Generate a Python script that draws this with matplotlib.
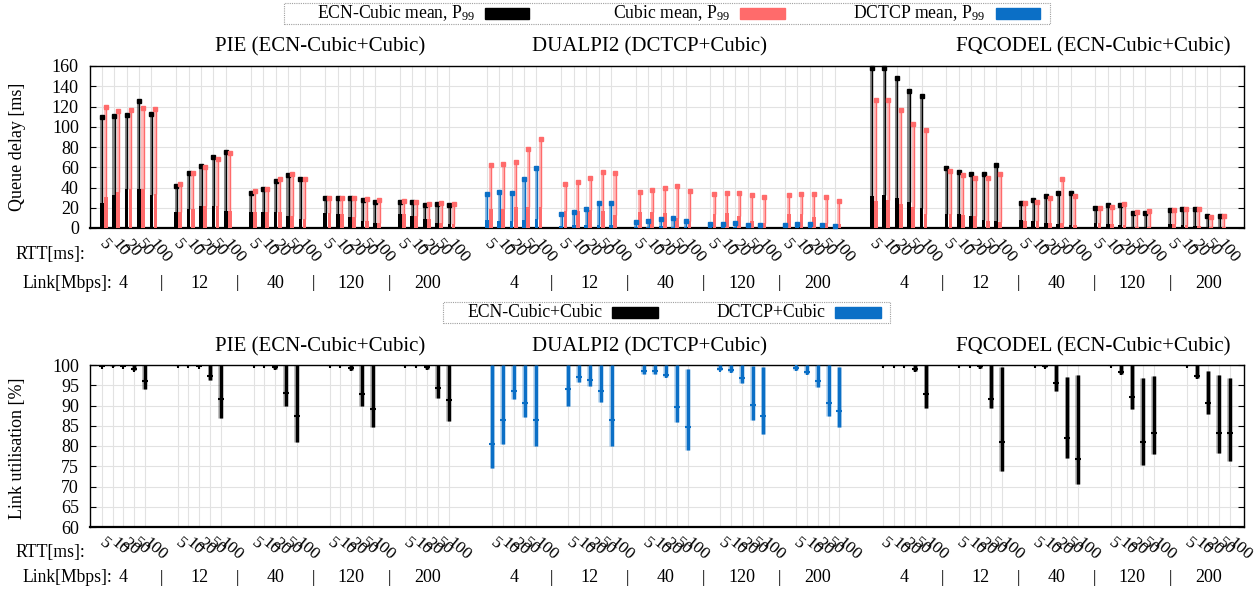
import matplotlib.pyplot as plt
from matplotlib.patches import Rectangle
import matplotlib.transforms as mtransforms
import numpy as np

plt.rcParams['font.family'] = ['Liberation Serif', 'DejaVu Serif']
plt.rcParams['mathtext.fontset'] = 'stix'

rtts = ['5', '10', '20', '50', '100']
links = ['4', '12', '40', '120', '200']
titles = ['PIE (ECN-Cubic+Cubic)', 'DUALPI2 (DCTCP+Cubic)', 'FQCODEL (ECN-Cubic+Cubic)']

# queue delay [ms], one row per link speed, one column per rtt
pie_ecn_mean = [[24.4, 32.3, 38.8, 38.5, 32.6],
                [16.1, 18.4, 21.7, 21.4, 16.8],
                [15.8, 15.8, 15.5, 11.5, 8.9],
                [14.8, 13.5, 10.5, 6.6, 4.6],
                [13.5, 11.9, 8.6, 5.3, 3.6]]
pie_ecn_p99 = [[110, 111, 112, 125, 113],
               [41.8, 54.6, 60.9, 69.8, 75.4],
               [34.9, 38.8, 46.7, 52.3, 48.1],
               [30, 30, 30, 28, 26],
               [25.7, 25.3, 22.4, 23.7, 22.7]]
pie_cubic_mean = [[30.3, 35.2, 38.8, 38.2, 33.2],
                  [16.1, 18.4, 21.7, 21.4, 16.8],
                  [15.8, 15.8, 15.5, 11.5, 8.9],
                  [14.8, 13.5, 10.5, 6.6, 4.6],
                  [13.5, 11.9, 8.6, 5.3, 4.0]]
pie_cubic_p99 = [[119.8, 115.2, 116.2, 118.8, 117.2],
                 [43.1, 54.6, 60.6, 68.5, 74.4],
                 [36.2, 38.2, 48.7, 53.3, 48.4],
                 [30, 30, 30, 28.3, 27.7],
                 [27, 26, 23.7, 25, 23.7]]

dual_dctcp_mean = [[7.6, 7.2, 6.9, 7.9, 8.9],
                   [2.3, 3.0, 3.3, 3.3, 3.0],
                   [1.3, 1.3, 1.6, 1.0, 1.0],
                   [1.0, 1.0, 1.0, 0.7, 0.7],
                   [0.7, 1.0, 1.0, 1.0, 0.7]]
dual_dctcp_p99 = [[33.3, 35.2, 34.6, 48.1, 58.9],
                  [13.5, 15.5, 18.4, 24.4, 24.4],
                  [5.6, 6.6, 8.6, 9.5, 6.9],
                  [4.0, 4.0, 4.6, 3.3, 3.3],
                  [3.3, 4.0, 4.0, 3.3, 2.3]]
dual_cubic_mean = [[19.1, 19.1, 20.4, 20.4, 20.4],
                   [16.5, 17.1, 17.4, 16.5, 12.5],
                   [15.5, 15.5, 15.1, 9.9, 6.6],
                   [14.2, 14.5, 11.5, 6.6, 4.6],
                   [13.8, 14.2, 10.5, 5.3, 3.6]]
dual_cubic_p99 = [[61.9, 62.9, 64.9, 77.7, 87.6],
                  [43.5, 45.1, 49.1, 55.0, 54.0],
                  [35.2, 37.2, 39.2, 41.2, 36.2],
                  [33.6, 34.2, 34.6, 32.3, 30.3],
                  [32.6, 33.3, 33.3, 30.9, 27.0]]

fq_ecn_mean = [[31.6, 32.9, 29.3, 26.0, 19.4],
               [14.2, 13.8, 12.2, 7.6, 6.6],
               [7.6, 6.6, 5.3, 3.6, 2.6],
               [4.9, 4.3, 3.0, 1.3, 1.3],
               [4.0, 3.0, 2.3, 1.3, 1.3]]
fq_ecn_p99 = [[158, 158, 148.5, 135, 130],
              [59.6, 55.6, 53.0, 53.7, 61.9],
              [24.4, 27.3, 31.3, 34.9, 34.9],
              [20.1, 22.4, 23.0, 14.8, 14.5],
              [18.1, 19.1, 18.4, 11.5, 12.2]]
fq_cubic_mean = [[26.3, 27.3, 23.4, 20.4, 14.2],
                 [13.5, 12.5, 11.5, 7.2, 5.9],
                 [7.2, 6.6, 5.3, 4.6, 2.6],
                 [4.9, 4.3, 3.0, 1.3, 1.3],
                 [4.3, 3.0, 2.0, 1.3, 1.3]]
fq_cubic_p99 = [[126.1, 126.1, 116.2, 103.0, 96.5],
                [56.0, 52.0, 49.1, 49.1, 53.0],
                [24.4, 26.0, 30.0, 48.7, 31.9],
                [19.4, 21.1, 24.0, 15.5, 16.5],
                [18.1, 19.1, 19.1, 11.2, 12.2]]

# link utilisation [%]
pie_util_mean = [[99.8, 99.9, 99.8, 99.1, 96.0],
                 [100, 100, 99.8, 97.2, 91.7],
                 [100, 100, 99.4, 93.1, 87.5],
                 [100, 100, 99.3, 92.8, 89.2],
                 [100, 100, 99.4, 94.4, 91.3]]
pie_util_min = [[99.7, 99.8, 99.7, 98.7, 94.1],
                [99.9, 99.9, 99.7, 96.2, 86.9],
                [99.9, 99.9, 99.1, 89.9, 81.1],
                [99.9, 99.9, 98.8, 89.9, 84.8],
                [99.9, 99.9, 99.1, 91.8, 86.2]]
pie_util_max = [[100, 100, 100, 100, 100],
                [100, 100, 100, 100, 100],
                [100, 100, 100, 100, 100],
                [100, 100, 100, 100, 100],
                [100, 100, 100, 100, 100]]

dual_util_mean = [[80.6, 86.4, 93.5, 90.7, 86.3],
                  [94.0, 97.1, 96.3, 93.7, 86.3],
                  [98.6, 98.4, 97.6, 89.6, 84.7],
                  [99.1, 98.8, 96.8, 90.2, 87.5],
                  [99.2, 98.3, 96.1, 90.7, 88.7]]
dual_util_min = [[74.5, 80.4, 91.7, 87.1, 80.1],
                 [90.0, 95.8, 94.8, 90.9, 80.1],
                 [97.9, 97.8, 97.0, 86.0, 79.1],
                 [98.8, 98.3, 95.5, 86.4, 82.9],
                 [98.8, 97.9, 94.5, 87.5, 84.6]]
dual_util_max = [[100, 100, 100, 100, 100],
                 [100, 100, 100, 100, 100],
                 [100, 100, 100, 100, 99.1],
                 [100, 100, 100, 99.8, 99.6],
                 [100, 100, 100, 100, 99.6]]

fq_util_mean = [[100, 100, 100, 99.1, 92.8],
                [100, 100, 99.7, 91.6, 81.1],
                [100, 99.8, 95.5, 81.9, 76.9],
                [100, 98.3, 92.2, 80.9, 83.1],
                [100, 97.4, 90.5, 83.1, 83.1]]
fq_util_min = [[99.9, 99.9, 99.9, 98.6, 89.3],
               [99.9, 99.9, 99.3, 89.3, 73.9],
               [99.9, 99.6, 93.6, 77.0, 70.7],
               [99.9, 97.8, 89.2, 75.2, 78.0],
               [99.9, 96.8, 87.9, 78.3, 76.4]]
fq_util_max = [[100, 100, 100, 100, 100],
               [100, 100, 100, 100, 99.5],
               [100, 100, 100, 97.0, 97.5],
               [100, 100, 100, 96.7, 97.3],
               [100, 100, 98.5, 97.5, 96.9]]

BLACK = '#000000'
RED = '#ff6b6b'
BLUE = '#0b6fc6'
GRID = '#e2e2e2'
FS = 13

W, H = 1256, 594
fig = plt.figure(figsize=(W / 100, H / 100), dpi=100)
ax1 = fig.add_axes([90 / W, 1 - 228 / H, 1154 / W, 162 / H])
ax2 = fig.add_axes([90 / W, 1 - 527 / H, 1154 / W, 162 / H])

top_sets = [(pie_ecn_mean, pie_ecn_p99, BLACK, pie_cubic_mean, pie_cubic_p99),
            (dual_dctcp_mean, dual_dctcp_p99, BLUE, dual_cubic_mean, dual_cubic_p99),
            (fq_ecn_mean, fq_ecn_p99, BLACK, fq_cubic_mean, fq_cubic_p99)]
bot_sets = [(pie_util_mean, pie_util_min, pie_util_max, BLACK),
            (dual_util_mean, dual_util_min, dual_util_max, BLUE),
            (fq_util_mean, fq_util_min, fq_util_max, BLACK)]

# ---- queue delay
ticks1 = []
for a in range(3):
    m1, p1, c1, m2, p2 = top_sets[a]
    for l in range(5):
        for r in range(5):
            x = a * 31 + l * 6 + r
            ticks1.append(x)
            for dx, mv, pv, col in [(0.0, m1[l][r], p1[l][r], c1), (0.33, m2[l][r], p2[l][r], RED)]:
                xx = x + dx
                ax1.bar(xx, mv, width=0.3, color=col, zorder=3)
                ax1.vlines(xx - 0.05, 0, pv, color=col, alpha=0.45, lw=2.2, zorder=2)
                ax1.vlines(xx + 0.04, mv, pv, color=col, lw=1.0, zorder=3)
                ax1.plot(xx, pv, marker='s', ms=3.2, color=col, zorder=4, clip_on=False)

ax1.set_xlim(-0.94, 91.96)
ax1.set_ylim(0, 160)
ax1.set_yticks(range(0, 161, 20))
ax1.set_xticks(ticks1)
ax1.set_xticklabels(rtts * 15, rotation=-50, ha='left', va='center', rotation_mode='anchor', fontsize=12.5)

# ---- link utilisation
ticks2 = []
for a in range(3):
    mu, mn, mx, col = bot_sets[a]
    for l in range(5):
        for r in range(5):
            x = a * 36 + l * 7 + r
            ticks2.append(x)
            ax2.vlines(x - 0.06, mn[l][r], mx[l][r], color=col, alpha=0.25, lw=3.5, zorder=2)
            ax2.vlines(x, mn[l][r], mx[l][r], color=col, lw=2.5, zorder=3)
            ax2.plot(x, mu[l][r], marker='+', ms=5, mew=1.5, color=col, zorder=4)

ax2.set_xlim(-1.08, 105.3)
ax2.set_ylim(60, 100)
ax2.set_yticks(range(60, 101, 5))
ax2.set_xticks(ticks2)
ax2.set_xticklabels(rtts * 15, rotation=-40, ha='left', va='center', rotation_mode='anchor', fontsize=12.5)

for ax in (ax1, ax2):
    ax.grid(True, color=GRID, lw=0.8, zorder=0)
    ax.set_axisbelow(True)
    ax.tick_params(axis='y', direction='in', length=4, right=True, labelsize=FS, pad=8)
    ax.tick_params(axis='x', length=0, pad=10)
    for s in ax.spines.values():
        s.set_linewidth(1.0)
    ax.spines['bottom'].set_linewidth(1.6)

fig.text(18 / W, 1 - 147 / H, 'Queue delay [ms]', rotation=90, ha='center', va='center', fontsize=FS)
fig.text(18 / W, 1 - 448 / H, 'Link utilisation [%]', rotation=90, ha='center', va='center', fontsize=FS)

title_x = [320, 649, 1093]
for k in range(3):
    fig.text(title_x[k] / W, 1 - 47 / H, titles[k], ha='center', va='center', fontsize=15)
    fig.text(title_x[k] / W, 1 - 347 / H, titles[k], ha='center', va='center', fontsize=15)

# RTT / link rows
trans = mtransforms.blended_transform_factory(ax2.transData, fig.transFigure)
for rtt_y, link_y in [(255, 283), (553, 578)]:
    fig.text(15 / W, 1 - rtt_y / H, 'RTT[ms]:', ha='left', va='center', fontsize=12.7)
    fig.text(22 / W, 1 - link_y / H, 'Link[Mbps]:', ha='left', va='center', fontsize=12.7)
    for a in range(3):
        for l in range(5):
            xc = a * 36 + l * 7 + 2
            fig.text(xc, 1 - link_y / H, links[l], transform=trans, ha='center', va='center', fontsize=13)
            if l < 4:
                fig.text(xc + 3.5, 1 - link_y / H, '|', transform=trans, ha='center', va='center', fontsize=12)


def legend_box(x0, x1, y0, y1, entries):
    fig.patches.append(Rectangle((x0 / W, 1 - y1 / H), (x1 - x0) / W, (y1 - y0) / H,
                                 transform=fig.transFigure, fill=False, ec='#a0a0a0',
                                 lw=0.8, ls=(0, (1, 1))))
    for text_end, sw0, sw1, col, label in entries:
        fig.text(text_end / W, 1 - (y0 + y1) / 2 / H, label, ha='right', va='center', fontsize=12.7)
        fig.patches.append(Rectangle((sw0 / W, 1 - (y0 + 16) / H), (sw1 - sw0) / W, 11 / H,
                                     transform=fig.transFigure, color=col))


p99 = r'P$_{\mathregular{99}}$'
legend_box(284, 1050, 3, 24, [(475, 485, 529, BLACK, 'ECN-Cubic mean, ' + p99),
                              (730, 740, 785, RED, 'Cubic mean, ' + p99),
                              (985, 996, 1040, BLUE, 'DCTCP mean, ' + p99)])
legend_box(443, 890, 302, 323, [(602, 612, 658, BLACK, 'ECN-Cubic+Cubic'),
                                (825, 835, 881, BLUE, 'DCTCP+Cubic')])

fig.savefig('out.png', dpi=100)
